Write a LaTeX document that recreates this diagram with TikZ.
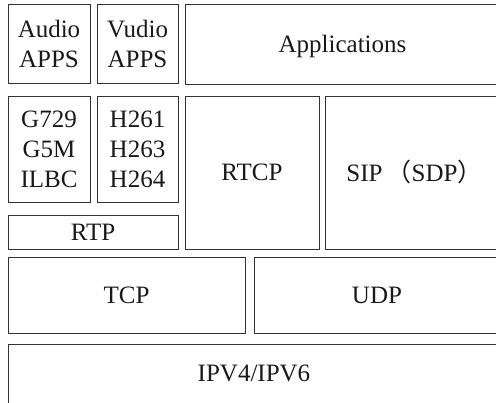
\documentclass[tikz,border=0pt]{standalone}
\usepackage{fontspec}
\setmainfont{Liberation Serif}
\newfontfamily\cjk{Noto Sans CJK SC}
\begin{document}
\begin{tikzpicture}[x=1pt,y=1pt,
  layer/.style={draw=black!80,line width=0.9pt},
  lbl/.style={font=\fontsize{25}{30}\selectfont,align=center,text=black!90,inner sep=0pt}]
\useasboundingbox (0,0) rectangle (496,403);
\clip (0,0) rectangle (496,403);
% boxes (y flipped: ytikz = 403 - ypx)
\draw[layer] (8,399) rectangle (90,320) node[midway,lbl] (audio) {Audio\\APPS};
\draw[layer] (97,399) rectangle (178,320) node[midway,lbl] (vudio) {Vudio\\APPS};
\draw[layer] (185,399) rectangle (500,319) node[midway,lbl,yshift=-2pt] (apps) {Applications};
\draw[layer] (8,307) rectangle (90,201) node[midway,lbl] (g729) {G729\\G5M\\ILBC};
\draw[layer] (97,307) rectangle (178,201) node[midway,lbl] (h261) {H261\\H263\\H264};
\draw[layer] (8,188) rectangle (178,154) node[midway,lbl] (rtp) {RTP};
\draw[layer] (185,307) rectangle (319,154) node[midway,lbl] (rtcp) {RTCP};
\draw[layer] (325,307) rectangle (500,154) node[midway,lbl,xshift=2pt] (sip) {SIP\,{\cjk（}SDP{\cjk）}};
\draw[layer] (8,146) rectangle (245,70) node[midway,lbl] (tcp) {TCP};
\draw[layer] (254,146) rectangle (500,70) node[midway,lbl] (udp) {UDP};
\draw[layer] (8,59) rectangle (500,-5) node[midway,lbl,yshift=3pt] (ip) {IPV4/IPV6};
\end{tikzpicture}
\end{document}
